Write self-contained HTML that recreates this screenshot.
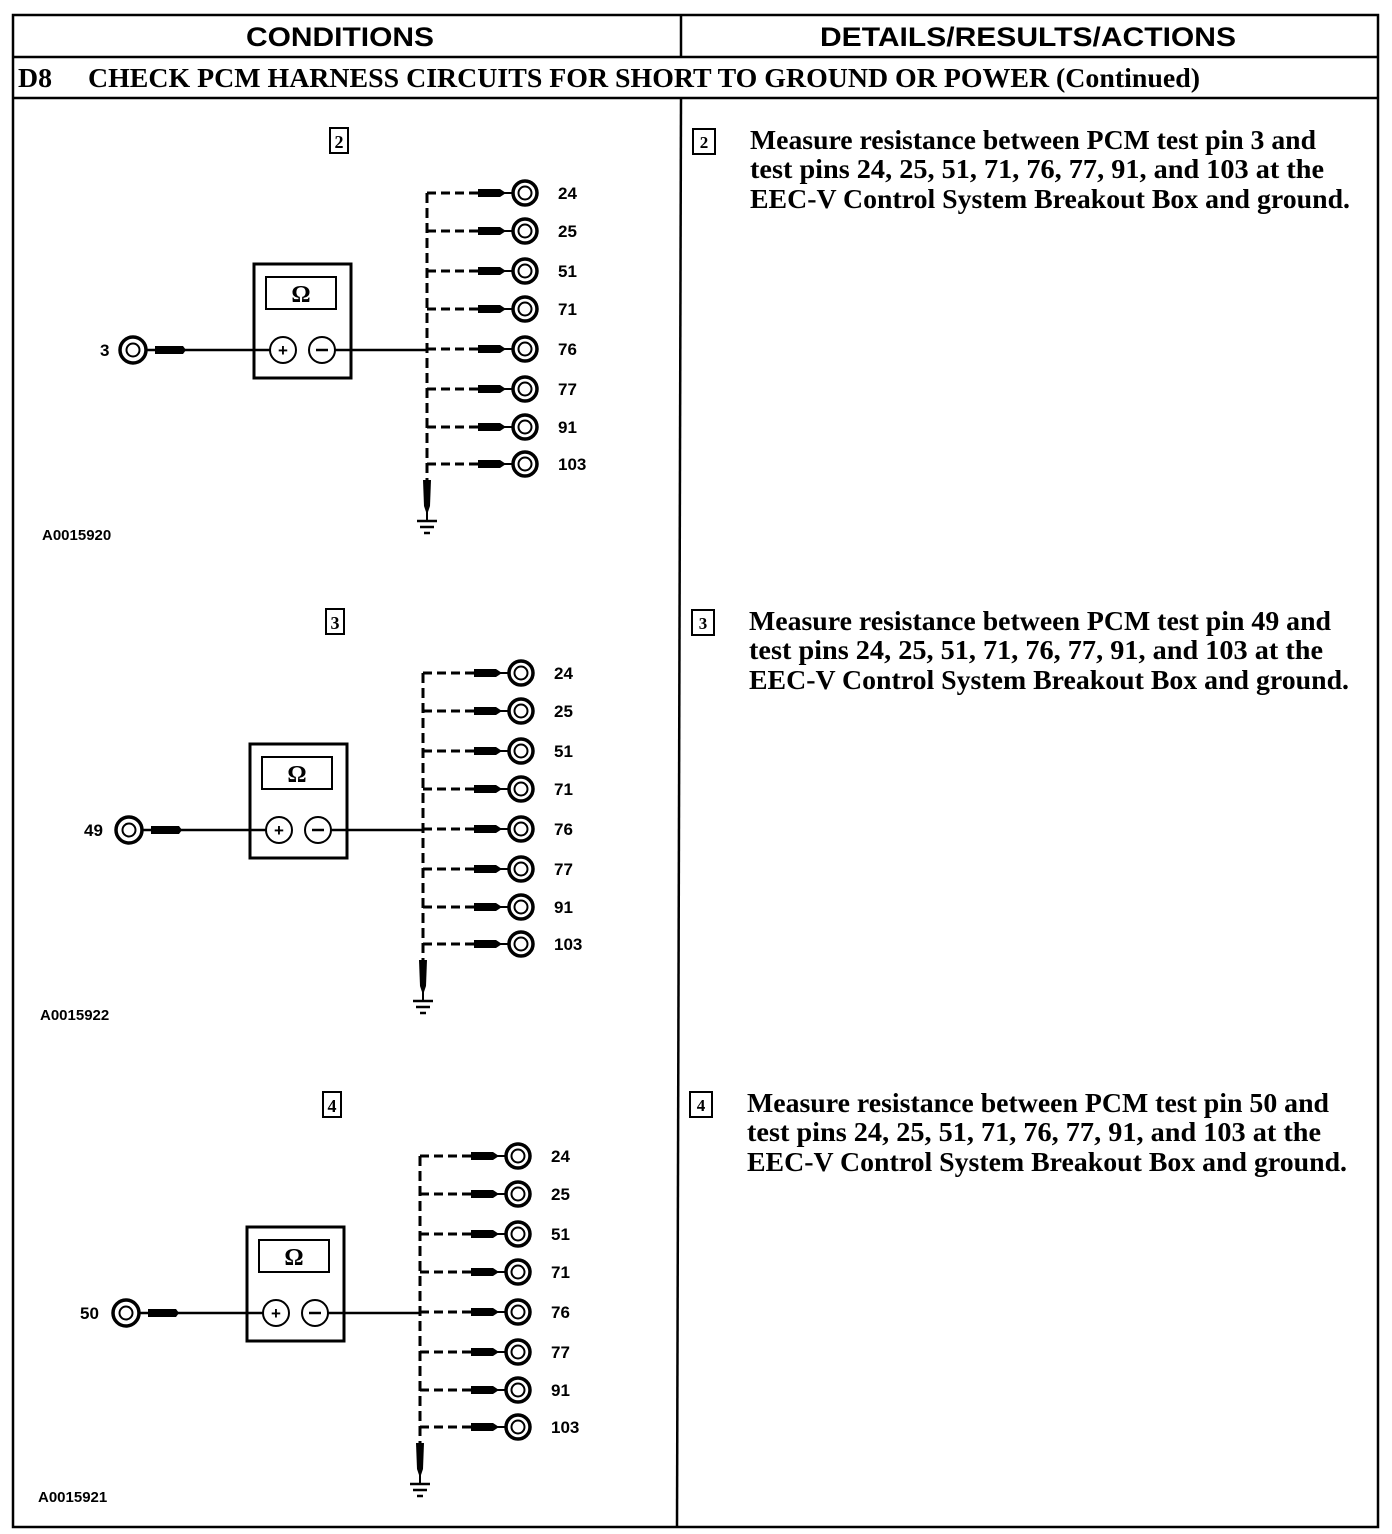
<!DOCTYPE html>
<html><head><meta charset="utf-8"><style>
html,body{margin:0;padding:0;background:#fff;}
svg{display:block;}
.h{font-family:"Liberation Sans",sans-serif;font-weight:bold;font-size:27px;}
.s{font-family:"Liberation Serif",serif;font-weight:bold;font-size:27px;}
.n{font-family:"Liberation Sans",sans-serif;font-weight:bold;font-size:17px;}
.c{font-family:"Liberation Sans",sans-serif;font-weight:bold;font-size:15px;}
</style></head><body>
<svg width="1392" height="1534" viewBox="0 0 1392 1534" xmlns="http://www.w3.org/2000/svg">
<defs>
<g id="row">
  <line x1="427" y1="0" x2="480" y2="0" stroke="#000" stroke-width="3" stroke-dasharray="9,5"/>
  <path d="M478 -4 L500 -4 L506 0 L500 4 L478 4 Z" fill="#000"/>
  <line x1="500" y1="0" x2="514" y2="0" stroke="#000" stroke-width="2"/>
  <circle cx="525" cy="0" r="12" fill="none" stroke="#000" stroke-width="3.5"/>
  <circle cx="525" cy="0" r="6.5" fill="none" stroke="#000" stroke-width="2"/>
</g>
<g id="diag">
  <rect x="254" y="264" width="97" height="114" fill="none" stroke="#000" stroke-width="3"/>
  <rect x="266" y="277" width="70" height="32" fill="none" stroke="#000" stroke-width="2"/>
  <text x="301" y="302" text-anchor="middle" class="s" style="font-size:24px">Ω</text>
  <circle cx="283" cy="350" r="13" fill="none" stroke="#000" stroke-width="2"/>
  <text x="283" y="356" text-anchor="middle" class="n">+</text>
  <circle cx="322" cy="350" r="13" fill="none" stroke="#000" stroke-width="2"/>
  <line x1="316" y1="350" x2="328" y2="350" stroke="#000" stroke-width="2.5"/>
  <circle cx="133" cy="350" r="13" fill="none" stroke="#000" stroke-width="3.5"/>
  <circle cx="133" cy="350" r="6.5" fill="none" stroke="#000" stroke-width="2"/>
  <line x1="146" y1="350" x2="270" y2="350" stroke="#000" stroke-width="2.5"/>
  <path d="M155 346 L183 346 L186 350 L183 354 L155 354 Z" fill="#000"/>
  <line x1="335" y1="350" x2="427" y2="350" stroke="#000" stroke-width="2.5"/>
  <line x1="427" y1="193" x2="427" y2="482" stroke="#000" stroke-width="3" stroke-dasharray="10,5"/>
  <path d="M423 480 L431 480 L430 506 L427 515 L424 506 Z" fill="#000"/>
  <line x1="427" y1="512" x2="427" y2="521" stroke="#000" stroke-width="2"/>
  <line x1="417" y1="521" x2="437" y2="521" stroke="#000" stroke-width="2.5"/>
  <line x1="420" y1="527" x2="434" y2="527" stroke="#000" stroke-width="2.5"/>
  <line x1="424" y1="533" x2="430" y2="533" stroke="#000" stroke-width="2.5"/>
  <use href="#row" y="193"/><use href="#row" y="231"/><use href="#row" y="271"/><use href="#row" y="309"/>
  <use href="#row" y="349"/><use href="#row" y="389"/><use href="#row" y="427"/><use href="#row" y="464"/>
  <g class="n">
  <text x="558" y="199">24</text><text x="558" y="237">25</text><text x="558" y="277">51</text><text x="558" y="315">71</text>
  <text x="558" y="355">76</text><text x="558" y="395">77</text><text x="558" y="433">91</text><text x="558" y="470">103</text>
  </g>
</g>
</defs>
<!-- table -->
<rect x="13" y="15" width="1365" height="1512" fill="none" stroke="#000" stroke-width="2.5"/>
<line x1="13" y1="57" x2="1378" y2="57" stroke="#000" stroke-width="2.5"/>
<line x1="13" y1="98" x2="1378" y2="98" stroke="#000" stroke-width="2.5"/>
<line x1="681" y1="15" x2="681" y2="57" stroke="#000" stroke-width="2.5"/>
<line x1="681" y1="98" x2="677" y2="1527" stroke="#000" stroke-width="2.5"/>
<text x="340" y="46" text-anchor="middle" class="h" textLength="188" lengthAdjust="spacingAndGlyphs">CONDITIONS</text>
<text x="1028" y="46" text-anchor="middle" class="h" textLength="416" lengthAdjust="spacingAndGlyphs">DETAILS/RESULTS/ACTIONS</text>
<text x="18" y="87" class="s" textLength="34" lengthAdjust="spacingAndGlyphs">D8</text>
<text x="88" y="87" class="s" textLength="1112" lengthAdjust="spacingAndGlyphs">CHECK PCM HARNESS CIRCUITS FOR SHORT TO GROUND OR POWER (Continued)</text>

<!-- diagram 1 -->
<rect x="330" y="128" width="18" height="25" fill="none" stroke="#000" stroke-width="2"/>
<text x="339" y="148" text-anchor="middle" class="s" style="font-size:18px">2</text>
<use href="#diag"/>
<text x="100" y="356" class="n">3</text>
<text x="42" y="540" class="c">A0015920</text>

<!-- diagram 2 -->
<rect x="326" y="609" width="18" height="25" fill="none" stroke="#000" stroke-width="2"/>
<text x="335" y="629" text-anchor="middle" class="s" style="font-size:18px">3</text>
<use href="#diag" x="-4" y="480"/>
<text x="84" y="836" class="n">49</text>
<text x="40" y="1020" class="c">A0015922</text>

<!-- diagram 3 -->
<rect x="323" y="1092" width="18" height="25" fill="none" stroke="#000" stroke-width="2"/>
<text x="332" y="1112" text-anchor="middle" class="s" style="font-size:18px">4</text>
<use href="#diag" x="-7" y="963"/>
<text x="80" y="1319" class="n">50</text>
<text x="38" y="1502" class="c">A0015921</text>

<!-- right column -->
<g class="s">
<rect x="693" y="129" width="22" height="25" fill="none" stroke="#000" stroke-width="2"/>
<text x="704" y="148" text-anchor="middle" style="font-size:17px">2</text>
<text x="750" y="149" textLength="566" lengthAdjust="spacingAndGlyphs">Measure resistance between PCM test pin 3 and</text>
<text x="750" y="178" textLength="574" lengthAdjust="spacingAndGlyphs">test pins 24, 25, 51, 71, 76, 77, 91, and 103 at the</text>
<text x="750" y="208" textLength="600" lengthAdjust="spacingAndGlyphs">EEC-V Control System Breakout Box and ground.</text>

<rect x="692" y="610" width="22" height="25" fill="none" stroke="#000" stroke-width="2"/>
<text x="703" y="629" text-anchor="middle" style="font-size:17px">3</text>
<text x="749" y="630" textLength="582" lengthAdjust="spacingAndGlyphs">Measure resistance between PCM test pin 49 and</text>
<text x="749" y="659" textLength="574" lengthAdjust="spacingAndGlyphs">test pins 24, 25, 51, 71, 76, 77, 91, and 103 at the</text>
<text x="749" y="689" textLength="600" lengthAdjust="spacingAndGlyphs">EEC-V Control System Breakout Box and ground.</text>

<rect x="690" y="1092" width="22" height="25" fill="none" stroke="#000" stroke-width="2"/>
<text x="701" y="1111" text-anchor="middle" style="font-size:17px">4</text>
<text x="747" y="1112" textLength="582" lengthAdjust="spacingAndGlyphs">Measure resistance between PCM test pin 50 and</text>
<text x="747" y="1141" textLength="574" lengthAdjust="spacingAndGlyphs">test pins 24, 25, 51, 71, 76, 77, 91, and 103 at the</text>
<text x="747" y="1171" textLength="600" lengthAdjust="spacingAndGlyphs">EEC-V Control System Breakout Box and ground.</text>
</g>
</svg>
</body></html>
